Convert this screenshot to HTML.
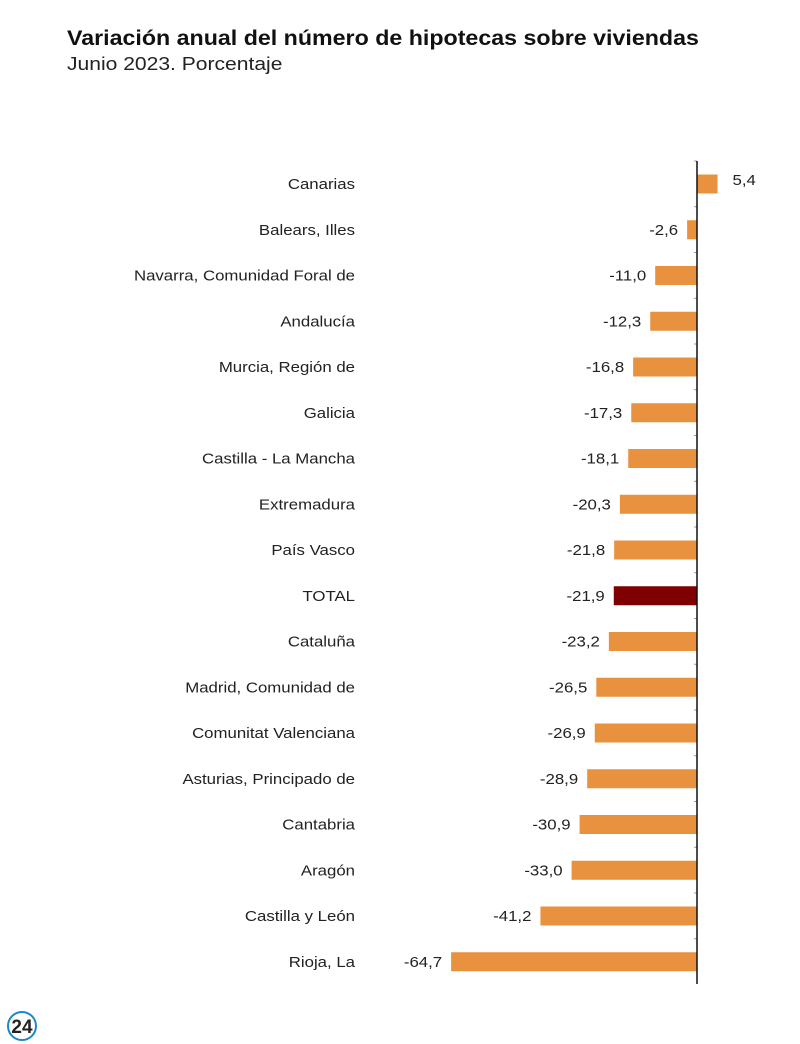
<!DOCTYPE html><html><head><meta charset="utf-8"><style>
body{margin:0;width:800px;height:1044px;background:#fff;font-family:"Liberation Sans",sans-serif;position:relative;overflow:hidden}
.t{position:absolute;left:67px;top:27px;font-size:21px;font-weight:bold;color:#111;transform-origin:0 0;transform:scaleX(1.105);white-space:nowrap}
.s{position:absolute;left:67px;top:54px;font-size:18px;color:#222;transform-origin:0 0;transform:scaleX(1.17);white-space:nowrap}
</style></head><body>
<div class="t">Variación anual del número de hipotecas sobre viviendas</div>
<div class="s">Junio 2023. Porcentaje</div>
<svg width="800" height="1044" style="position:absolute;left:0;top:0" font-family="Liberation Sans, sans-serif" font-size="15" fill="#222">
<g id="g"></g>
<line x1="697" y1="161" x2="697" y2="984" stroke="#111" stroke-width="1.5"/>
<g fill="#222">
<circle cx="22" cy="1026" r="14" fill="none" stroke="#1a88c9" stroke-width="2"/>
<text x="22" y="1033" text-anchor="middle" font-size="19" font-weight="bold" fill="#222">24</text>
</g>
</svg>
<script>
var d=[["Canarias",5.4],["Balears, Illes",-2.6],["Navarra, Comunidad Foral de",-11.0],["Andalucía",-12.3],["Murcia, Región de",-16.8],["Galicia",-17.3],["Castilla - La Mancha",-18.1],["Extremadura",-20.3],["País Vasco",-21.8],["TOTAL",-21.9],["Cataluña",-23.2],["Madrid, Comunidad de",-26.5],["Comunitat Valenciana",-26.9],["Asturias, Principado de",-28.9],["Cantabria",-30.9],["Aragón",-33.0],["Castilla y León",-41.2],["Rioja, La",-64.7]];
var s="",k=3.8,ax=697;
function T(x,y,t,a){return '<text transform="translate('+x+','+y+') scale(1.12,1)" text-anchor="'+a+'">'+t+'</text>';}
d.forEach(function(r,i){var c=184+i*45.75,v=r[1],w=Math.abs(v)*k,x=v<0?ax-w:ax;
s+=T(355,c+5,r[0],"end");
s+='<rect x="'+x+'" y="'+(c-9.5)+'" width="'+w+'" height="19" fill="'+(r[0]=="TOTAL"?"#7f0000":"#e8913e")+'"/>';
var lbl=v.toFixed(1).replace(".",",");
if(v<0)s+=T(x-9,c+5,lbl,"end");else s+=T(x+w+15,c+1,lbl,"start");
s+='<line x1="694" x2="697" y1="'+(c-23)+'" y2="'+(c-23)+'" stroke="#999"/>';});
document.getElementById("g").innerHTML=s;
</script>
</body></html>
